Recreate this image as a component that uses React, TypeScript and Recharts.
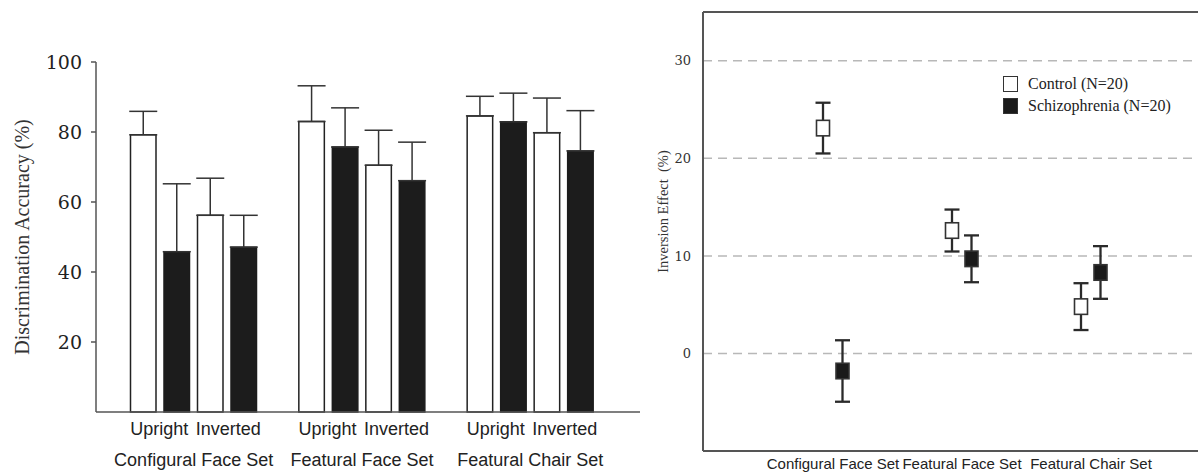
import React from "react";
import {
  BarChart,
  Bar,
  XAxis,
  YAxis,
  ErrorBar,
  ComposedChart,
  CartesianGrid,
  ReferenceLine,
  Legend,
} from "recharts";

// left panel: discrimination accuracy
const groups = ["Configural Face Set", "Featural Face Set", "Featural Chair Set"];
const orientations = ["Upright", "Inverted"];

const uprightControl = [79.2, 83.0, 84.6];
const uprightControlErr = [6.7, 10.2, 5.6];
const uprightSchizo = [45.8, 75.7, 82.9];
const uprightSchizoErr = [19.4, 11.2, 8.2];
const invertedControl = [56.2, 70.5, 79.8];
const invertedControlErr = [10.6, 10.0, 9.9];
const invertedSchizo = [47.1, 66.1, 74.6];
const invertedSchizoErr = [9.1, 11.0, 11.5];

const accuracyTicks = [20, 40, 60, 80, 100];

// right panel: inversion effect
const effectControl = [23.1, 12.6, 4.8];
const effectControlErr = [2.6, 2.15, 2.4];
const effectSchizo = [-1.8, 9.7, 8.3];
const effectSchizoErr = [3.15, 2.4, 2.7];

const effectTicks = [0, 10, 20, 30];

const accuracyData = groups.map((g, i) => ({
  group: g,
  uc: uprightControl[i],
  ucErr: [0, uprightControlErr[i]],
  us: uprightSchizo[i],
  usErr: [0, uprightSchizoErr[i]],
  ic: invertedControl[i],
  icErr: [0, invertedControlErr[i]],
  is: invertedSchizo[i],
  isErr: [0, invertedSchizoErr[i]],
}));

const effectData = groups.map((g, i) => ({
  group: g,
  control: effectControl[i],
  controlErr: effectControlErr[i],
  schizo: effectSchizo[i],
  schizoErr: effectSchizoErr[i],
}));

const SERIF = "'Liberation Serif', 'DejaVu Serif', serif";
const SANS = "'Liberation Sans', Arial, sans-serif";

function GroupTick(props: any) {
  const { x, y, payload } = props;
  return (
    <g fontFamily={SANS} fontSize={18} fill="#222">
      <text x={x - 34.5} y={y + 23} textAnchor="middle">{orientations[0]}</text>
      <text x={x + 34.5} y={y + 23} textAnchor="middle">{orientations[1]}</text>
      <text x={x} y={y + 54} textAnchor="middle">{payload.value}</text>
    </g>
  );
}

function EffectTick(props: any) {
  const { x, y, payload } = props;
  return (
    <text x={x} y={y + 18} textAnchor="middle" fontFamily={SANS} fontSize={15} fill="#222">
      {payload.value}
    </text>
  );
}

function AxisTitle(props: any) {
  const { viewBox, text, left, shift, size } = props;
  const cx = viewBox.x + left;
  const cy = viewBox.y + viewBox.height / 2 + shift;
  return (
    <text
      x={cx}
      y={cy}
      transform={`rotate(-90, ${cx}, ${cy})`}
      textAnchor="middle"
      dominantBaseline="central"
      fontFamily={SERIF}
      fontSize={size}
      fill="#333"
    >
      {text}
    </text>
  );
}

function markerShape(errKey: string, valueKey: string) {
  return (props: any) => {
    const { x, y, width, height, payload, fill } = props;
    const v = payload[valueKey];
    const e = payload[errKey];
    const k = Math.abs(height / v);
    const cy = v >= 0 ? y : height < 0 ? y : y + height;
    const cx = x + width / 2;
    const top = cy - e * k;
    const bottom = cy + e * k;
    return (
      <g>
        <line x1={cx} x2={cx} y1={top} y2={bottom} stroke="#2a2a2a" strokeWidth={2.3} />
        <line x1={cx - 7.5} x2={cx + 7.5} y1={top} y2={top} stroke="#2a2a2a" strokeWidth={2.3} />
        <line x1={cx - 7.5} x2={cx + 7.5} y1={bottom} y2={bottom} stroke="#2a2a2a" strokeWidth={2.3} />
        <rect x={cx - 6.5} y={cy - 7.75} width={13} height={15.5} fill={fill} stroke="#333" strokeWidth={1.6} />
      </g>
    );
  };
}

function EffectLegend(props: any) {
  const { payload } = props;
  return (
    <div>
      {(payload || []).map((entry: any) => (
        <div key={entry.value} style={{ display: "flex", alignItems: "center", height: 21.7 }}>
          <div
            style={{
              width: 15,
              height: 16,
              boxSizing: "border-box",
              border: "1.5px solid #333",
              background: entry.color,
            }}
          />
          <span style={{ marginLeft: 10, fontFamily: SERIF, fontSize: 16, color: "#222", whiteSpace: "nowrap" }}>
            {entry.value}
          </span>
        </div>
      ))}
    </div>
  );
}

export default function App() {
  return (
    <div style={{ position: "absolute", left: 0, top: 0, width: 1198, height: 473, background: "#fff" }}>
      <div style={{ position: "absolute", left: 0, top: 0 }}>
        <BarChart
          width={645}
          height={473}
          data={accuracyData}
          margin={{ top: 62, right: 5, bottom: 0, left: 0 }}
          barSize={25.5}
          barGap={8}
        >
          <XAxis
            dataKey="group"
            height={61}
            interval={0}
            tickLine={false}
            tickSize={0}
            tickMargin={0}
            padding={{ left: 13.5, right: 25.5 }}
            axisLine={{ stroke: "#555", strokeWidth: 1.5 }}
            tick={<GroupTick />}
          />
          <YAxis
            width={96}
            domain={[0, 100]}
            ticks={accuracyTicks}
            tickSize={5}
            tickMargin={9}
            axisLine={{ stroke: "#555", strokeWidth: 1.5 }}
            tickLine={{ stroke: "#555", strokeWidth: 1.5 }}
            tick={{ fontFamily: "'DejaVu Serif', serif", fontSize: 19, fill: "#222" }}
            label={<AxisTitle text="Discrimination Accuracy (%)" left={22} shift={0} size={20} />}
          />
          <Bar dataKey="uc" fill="#fff" stroke="#222" strokeWidth={1.5} isAnimationActive={false}>
            <ErrorBar dataKey="ucErr" width={14} stroke="#333" strokeWidth={1.5} direction="y" />
          </Bar>
          <Bar dataKey="us" fill="#1c1c1c" stroke="#1c1c1c" strokeWidth={1.5} isAnimationActive={false}>
            <ErrorBar dataKey="usErr" width={14} stroke="#333" strokeWidth={1.5} direction="y" />
          </Bar>
          <Bar dataKey="ic" fill="#fff" stroke="#222" strokeWidth={1.5} isAnimationActive={false}>
            <ErrorBar dataKey="icErr" width={14} stroke="#333" strokeWidth={1.5} direction="y" />
          </Bar>
          <Bar dataKey="is" fill="#1c1c1c" stroke="#1c1c1c" strokeWidth={1.5} isAnimationActive={false}>
            <ErrorBar dataKey="isErr" width={14} stroke="#333" strokeWidth={1.5} direction="y" />
          </Bar>
        </BarChart>
      </div>
      <div style={{ position: "absolute", left: 640, top: 0 }}>
        <ComposedChart
          width={558}
          height={473}
          data={effectData}
          margin={{ top: 12, right: 0, bottom: 0, left: 0 }}
          barSize={13}
          barGap={6.5}
        >
          <CartesianGrid vertical={false} strokeDasharray="9 6" stroke="#b8b8b8" strokeWidth={1.5} />
          <XAxis
            dataKey="group"
            height={22}
            interval={0}
            tickLine={false}
            tickSize={0}
            tickMargin={0}
            padding={{ left: 65.5, right: 42.5 }}
            axisLine={{ stroke: "#555", strokeWidth: 2 }}
            tick={<EffectTick />}
          />
          <YAxis
            width={63}
            domain={[-10, 35]}
            ticks={effectTicks}
            tickLine={false}
            tickMargin={6}
            axisLine={{ stroke: "#555", strokeWidth: 2 }}
            tick={{ fontFamily: "'DejaVu Serif', serif", fontSize: 13, fill: "#333" }}
            label={<AxisTitle text={"Inversion Effect\u00a0 (%)"} left={22.5} shift={-20} size={14.5} />}
          />
          <ReferenceLine y={35} stroke="#555" strokeWidth={2} />
          <Legend
            layout="vertical"
            align="center"
            verticalAlign="middle"
            wrapperStyle={{ left: 363, top: 73 }}
            content={<EffectLegend />}
          />
          <Bar
            dataKey="control"
            name="Control (N=20)"
            fill="#fff"
            shape={markerShape("controlErr", "control")}
            isAnimationActive={false}
          />
          <Bar
            dataKey="schizo"
            name="Schizophrenia (N=20)"
            fill="#1a1a1a"
            shape={markerShape("schizoErr", "schizo")}
            isAnimationActive={false}
          />
        </ComposedChart>
      </div>
    </div>
  );
}
